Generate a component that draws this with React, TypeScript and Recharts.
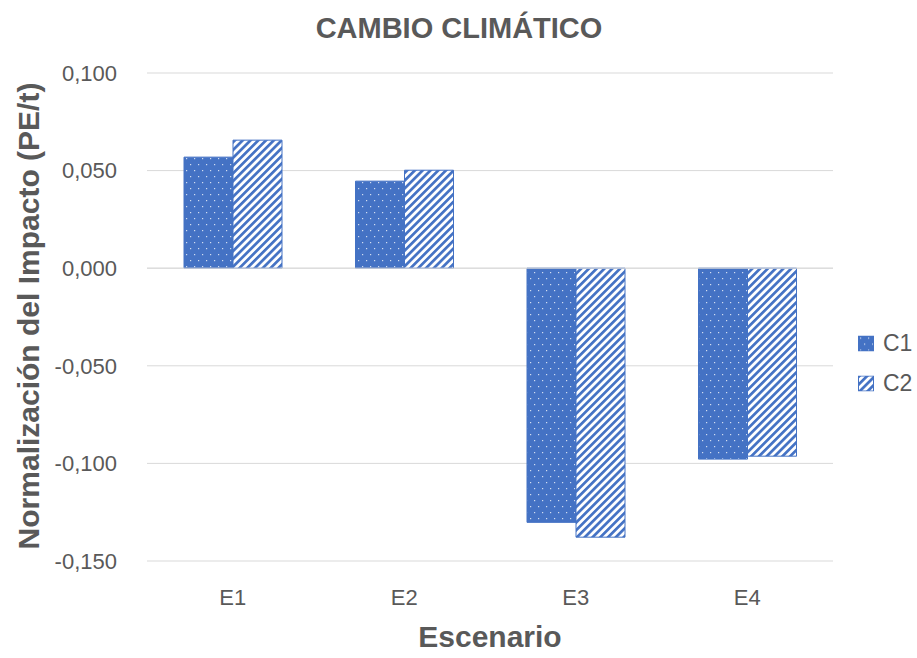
import React from 'react';
import {
  BarChart,
  Bar,
  XAxis,
  YAxis,
  CartesianGrid,
  ReferenceLine,
} from 'recharts';

const escenarios = ['E1', 'E2', 'E3', 'E4'];
const c1Values = [0.0569, 0.0446, -0.1302, -0.0978];
const c2Values = [0.0656, 0.0502, -0.1378, -0.0963];
const yTicks = [-0.15, -0.1, -0.05, 0, 0.05, 0.1];

const data = escenarios.map((e, i) => ({ name: e, C1: c1Values[i], C2: c2Values[i] }));

const BLUE = '#4472C4';
const TEXT = '#595959';
const FONT = '"Liberation Sans", Arial, sans-serif';

const fmt = (v: number) => v.toFixed(3).replace('.', ',');

function Patterns() {
  return (
    <svg width={0} height={0} style={{ position: 'absolute' }}>
      <defs>
        <pattern id="dots" width={8} height={12} patternUnits="userSpaceOnUse">
          <rect width={8} height={12} fill={BLUE} />
          <rect x={2} y={2} width={1.2} height={1.2} fill="#ffffff" opacity={0.75} />
          <rect x={6} y={8} width={1.2} height={1.2} fill="#ffffff" opacity={0.75} />
        </pattern>
        <pattern
          id="stripes"
          width={5.5}
          height={5.5}
          patternUnits="userSpaceOnUse"
          patternTransform="rotate(45)"
        >
          <rect width={5.5} height={5.5} fill="#ffffff" />
          <rect width={2.7} height={5.5} fill={BLUE} />
        </pattern>
      </defs>
    </svg>
  );
}

export default function App() {
  return (
    <div style={{ position: 'absolute', left: 0, top: 0, width: 917, height: 658, background: '#fff', fontFamily: FONT }}>
      <Patterns />
      <div
        style={{
          position: 'absolute',
          left: 459,
          top: 28,
          transform: 'translate(-50%, -50%)',
          whiteSpace: 'nowrap',
          fontSize: 29,
          fontWeight: 'bold',
          color: TEXT,
        }}
      >
        CAMBIO CLIMÁTICO
      </div>
      <BarChart
        width={917}
        height={658}
        data={data}
        margin={{ top: 73, right: 84, left: 0, bottom: 0 }}
        barCategoryGap={37}
        barGap={0}
      >
        <CartesianGrid vertical={false} stroke="#D9D9D9" />
        <XAxis
          dataKey="name"
          axisLine={false}
          tickLine={false}
          tick={{ fontSize: 22, fill: TEXT, fontFamily: FONT }}
          tickMargin={22}
          height={97}
        />
        <YAxis
          width={147}
          domain={[-0.15, 0.1]}
          ticks={yTicks}
          tickFormatter={fmt}
          axisLine={false}
          tickLine={false}
          tick={{ fontSize: 22, fill: TEXT, fontFamily: FONT }}
          tickMargin={24}
        />
        <ReferenceLine y={0} stroke="#D9D9D9" />
        <Bar dataKey="C1" fill="url(#dots)" stroke={BLUE} strokeWidth={1} isAnimationActive={false} />
        <Bar dataKey="C2" fill="url(#stripes)" stroke={BLUE} strokeWidth={1} isAnimationActive={false} />
      </BarChart>
      <div
        style={{
          position: 'absolute',
          left: 29,
          top: 316,
          transform: 'translate(-50%, -50%) rotate(-90deg)',
          whiteSpace: 'nowrap',
          fontSize: 30,
          fontWeight: 'bold',
          color: TEXT,
        }}
      >
        Normalización del Impacto (PE/t)
      </div>
      <div
        style={{
          position: 'absolute',
          left: 490,
          top: 637,
          transform: 'translate(-50%, -50%)',
          whiteSpace: 'nowrap',
          fontSize: 30,
          fontWeight: 'bold',
          color: TEXT,
        }}
      >
        Escenario
      </div>
      {[
        { label: 'C1', fill: 'url(#dots)', y: 343 },
        { label: 'C2', fill: 'url(#stripes)', y: 383 },
      ].map((item) => (
        <div
          key={item.label}
          style={{
            position: 'absolute',
            left: 858,
            top: item.y,
            transform: 'translateY(-50%)',
            display: 'flex',
            alignItems: 'center',
            fontSize: 23,
            color: TEXT,
          }}
        >
          <svg width={16} height={16} style={{ marginRight: 9 }}>
            <rect x={0.5} y={0.5} width={15} height={15} fill={item.fill} stroke={BLUE} />
          </svg>
          {item.label}
        </div>
      ))}
    </div>
  );
}
